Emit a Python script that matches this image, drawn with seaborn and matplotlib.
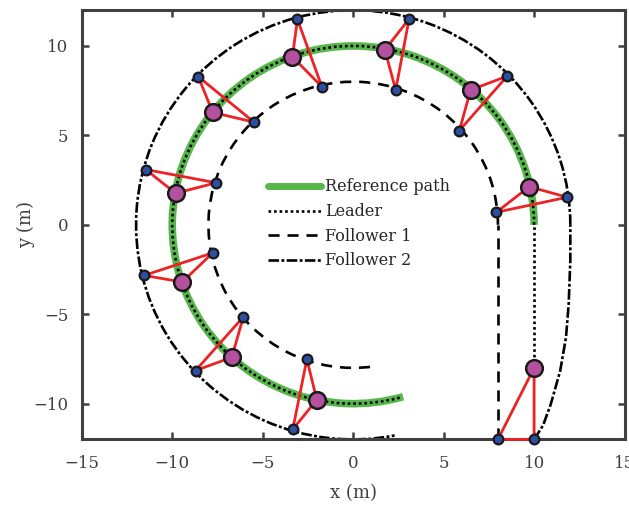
import numpy as np
import pandas as pd
import matplotlib
matplotlib.use("Agg")
import matplotlib.pyplot as plt
from matplotlib.patches import Arc
from matplotlib.lines import Line2D
import seaborn as sns

# Formation snapshots: leader and the two followers at ten instants
leader_x = [10.0, 9.73, 6.49, 1.75, -3.36, -7.76, -9.81, -9.45, -6.71, -2.01]
leader_y = [-8.0, 2.13, 7.54, 9.78, 9.39, 6.28, 1.76, -3.20, -7.41, -9.78]
f1_x = [8.0, 7.91, 5.87, 2.35, -1.73, -5.48, -7.58, -7.76, -6.07, -2.56]
f1_y = [-12.0, 0.70, 5.27, 7.54, 7.72, 5.74, 2.35, -1.57, -5.15, -7.52]
f2_x = [10.0, 11.83, 8.51, 3.09, -3.08, -8.56, -11.47, -11.55, -8.71, -3.34]
f2_y = [-12.0, 1.54, 8.31, 11.51, 11.48, 8.28, 3.09, -2.83, -8.15, -11.44]

# Straight / transition segments of each trajectory
leader_seg_x = [10.0, 10.0]
leader_seg_y = [-8.0, 0.0]
f1_seg_x = [8.0, 8.0]
f1_seg_y = [-12.0, 0.0]
f2_seg_x = [10.0, 10.5, 10.92, 11.44, 11.76, 11.91, 12.0, 12.0]
f2_seg_y = [-12.0, -11.2, -10.03, -8.17, -6.3, -4.44, -2.0, 0.0]

# Circular parts: radius and swept angle (degrees)
ref_radius, ref_theta = 10.0, (0.0, 286.0)
leader_radius, leader_theta = 10.0, (0.0, 285.0)
f1_radius, f1_theta = 8.0, (0.0, 278.0)
f2_radius, f2_theta = 12.0, (0.0, 281.0)

labels = ["Reference path", "Leader", "Follower 1", "Follower 2"]

GREEN = "#57b74b"
MAGENTA = "#b4519f"
NAVY = "#2c4ea3"
RED = "#ee2125"
EDGE = "#1a1a1a"
AXC = "#404040"

sns.set_theme(style="white")
plt.rcParams["font.family"] = ["DejaVu Serif"]
plt.rcParams["mathtext.fontset"] = "dejavuserif"

fig = plt.figure(figsize=(6.29, 5.08), dpi=100)
ax = fig.add_axes([0.130, 0.135, 0.863, 0.845])

lw_line = 1.9
dot = (0, (1.0, 1.1))
dash = (0, (4.2, 3.0))
dashdot = (0, (4.0, 0.9, 1.1, 0.9))

# reference path
ax.add_patch(Arc((0, 0), 2 * ref_radius, 2 * ref_radius, theta1=ref_theta[0],
                 theta2=ref_theta[1], color=GREEN, lw=5.5, zorder=1))

# trajectories
ax.add_patch(Arc((0, 0), 2 * leader_radius, 2 * leader_radius, theta1=leader_theta[0],
                 theta2=leader_theta[1], color="black", lw=lw_line, ls=dot, zorder=2))
ax.add_patch(Arc((0, 0), 2 * f1_radius, 2 * f1_radius, theta1=f1_theta[0],
                 theta2=f1_theta[1], color="black", lw=lw_line, ls=dash, zorder=2))
ax.add_patch(Arc((0, 0), 2 * f2_radius, 2 * f2_radius, theta1=f2_theta[0],
                 theta2=f2_theta[1], color="black", lw=lw_line, ls=dashdot, zorder=2))

seg_specs = [(leader_seg_x, leader_seg_y, dot), (f1_seg_x, f1_seg_y, dash),
             (f2_seg_x, f2_seg_y, dashdot)]
for sx, sy, ls in seg_specs:
    d = pd.DataFrame({"x": sx, "y": sy})
    sns.lineplot(data=d, x="x", y="y", sort=False, estimator=None, ax=ax,
                 color="black", lw=lw_line, zorder=2)
    ax.lines[-1].set_linestyle(ls)

# formation triangles
for i in range(len(leader_x)):
    tri = pd.DataFrame({"x": [leader_x[i], f1_x[i], f2_x[i], leader_x[i]],
                        "y": [leader_y[i], f1_y[i], f2_y[i], leader_y[i]]})
    sns.lineplot(data=tri, x="x", y="y", sort=False, estimator=None, ax=ax,
                 color=RED, lw=2.0, zorder=3)
    ax.lines[-1].set_clip_on(False)

# agents
sns.scatterplot(x=f1_x + f2_x, y=f1_y + f2_y, ax=ax, s=7.0 ** 2, color=NAVY,
                edgecolor=EDGE, linewidth=1.6, zorder=5, clip_on=False)
sns.scatterplot(x=leader_x, y=leader_y, ax=ax, s=12.0 ** 2, color=MAGENTA,
                edgecolor=EDGE, linewidth=1.8, zorder=6, clip_on=False)

ax.set_xlim(-15, 15)
ax.set_ylim(-12, 12)
ax.set_xticks([-15, -10, -5, 0, 5, 10, 15])
ax.set_yticks([-10, -5, 0, 5, 10])
ax.set_xticklabels(["\u221215", "\u221210", "\u22125", "0", "5", "10", "15"])
ax.set_yticklabels(["\u221210", "\u22125", "0", "5", "10"])
ax.set_xlabel("x (m)", fontsize=13, color=AXC, labelpad=8.5)
ax.set_ylabel("y (m)", fontsize=13, color=AXC, labelpad=-1)
for sp in ax.spines.values():
    sp.set_visible(True)
    sp.set_color(AXC)
    sp.set_linewidth(2.2)
    sp.set_zorder(2.5)
ax.tick_params(direction="in", length=5, width=1.8, color=AXC, labelcolor=AXC,
               labelsize=12, top=True, right=True, bottom=True, left=True)
ax.tick_params(axis="x", pad=11.5)
ax.tick_params(axis="y", pad=9.5)
ax.grid(False)

handles = [Line2D([], [], color=GREEN, lw=5.0),
           Line2D([], [], color="black", lw=lw_line, ls=dot),
           Line2D([], [], color="black", lw=lw_line, ls=dash),
           Line2D([], [], color="black", lw=lw_line, ls=dashdot)]
leg = ax.legend(handles, labels, loc="upper left", bbox_to_anchor=(0.343, 0.608),
                frameon=False, fontsize=11.5, handlelength=3.3, handletextpad=0.3,
                labelspacing=0.48, borderpad=0, borderaxespad=0)
for t in leg.get_texts():
    t.set_color("#262626")

fig.savefig("out.png", dpi=100)
